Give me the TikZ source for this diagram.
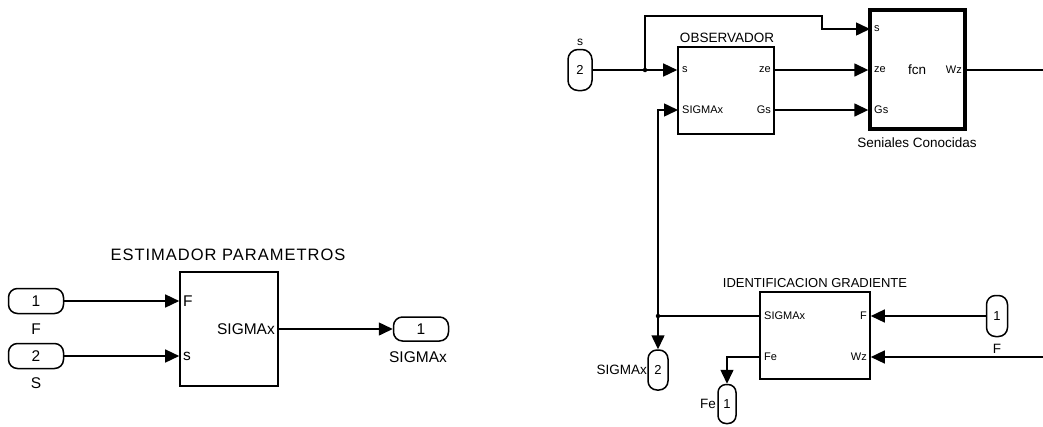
\documentclass[tikz,border=0pt]{standalone}
\usepackage{fontspec}
\setmainfont{Liberation Sans}
\usetikzlibrary{arrows.meta}

\begin{document}
\begin{tikzpicture}[
    x=1pt, y=-1pt,
    blk/.style={rectangle, draw, line width=1.6pt, inner sep=0pt},
    port/.style={rectangle, draw, line width=1.5pt, rounded corners=9pt, inner sep=0pt, font=\fontsize{13}{15}\selectfont},
    plbl/.style={inner sep=0pt, font=\fontsize{11}{12}\selectfont},
    ttl/.style={inner sep=0pt, font=\fontsize{13.5}{15}\selectfont},
    big/.style={font=\fontsize{15.5}{17}\selectfont},
    sig/.style={line width=1.5pt, -{Triangle[length=14pt, width=13pt]}},
    wire/.style={line width=1.5pt},
    dot/.style={circle, fill, inner sep=0pt, minimum size=4.5pt}
]
    \useasboundingbox (0,0) rectangle (1043,426);

    % estimador (left)
    \node[blk, minimum width=98pt, minimum height=114pt] (est) at (229,329) {};
    \node[ttl, font=\fontsize{16.5}{18}\selectfont\addfontfeatures{LetterSpace=6}] (estT) at (228,255) {ESTIMADOR PARAMETROS};
    \node[port, big, minimum width=55pt, minimum height=25pt] (inF) at (36,301) {1};
    \node[ttl, big] (inFlbl) at (36,329) {F};
    \node[port, big, minimum width=55pt, minimum height=25pt] (inS) at (36,356) {2};
    \node[ttl, big] (inSlbl) at (36,383) {S};
    \node[port, big, minimum width=55pt, minimum height=24pt] (outS) at (421,329) {1};
    \node[ttl, big] (outSlbl) at (418,357) {SIGMAx};
    \node[plbl, big, anchor=west] (estF) at (183,301) {F};
    \node[plbl, big, anchor=west] (estS) at (183,356) {s};
    \node[plbl, big, anchor=east] (estO) at (275,329) {SIGMAx};

    \draw[sig] (inF) -- (inF -| est.west);
    \draw[sig] (inS) -- (inS -| est.west);
    \draw[sig] (est) -- (outS);

    % observador and seniales conocidas
    \node[port, minimum width=24pt, minimum height=41pt, rounded corners=10pt] (in2) at (580,70) {2};
    \node[ttl, font=\fontsize{12}{14}\selectfont] (in2lbl) at (580,42) {s};
    \node[blk, minimum width=96pt, minimum height=87pt] (obs) at (726,90.5) {};
    \node[ttl] (obsT) at (727,38) {OBSERVADOR};
    \node[plbl, anchor=west] (obsS) at (682,70) {s};
    \node[plbl, anchor=west] (obsSig) at (682,110) {SIGMAx};
    \node[plbl, anchor=east] (obsZe) at (771,70) {ze};
    \node[plbl, anchor=east] (obsGs) at (771,110) {Gs};

    \node[blk, line width=3.4pt, minimum width=95pt, minimum height=119pt] (fcn) at (917.5,69.5) {};
    \node[ttl] (fcnT) at (917,70) {fcn};
    \node[ttl] (fcnB) at (917,143) {Seniales Conocidas};
    \node[plbl, anchor=west] (fcnS) at (874,29) {s};
    \node[plbl, anchor=west] (fcnZe) at (874,70) {ze};
    \node[plbl, anchor=west] (fcnGs) at (874,110) {Gs};
    \node[plbl, anchor=east] (fcnWz) at (962,70) {Wz};

    \node[dot] (j1) at (645,70) {};
    \coordinate (fcnSin) at (870,29);
    \coordinate (obsSin) at (678,110);
    \coordinate (wzOut) at (1043,70);

    \draw[wire] (in2) -- (j1);
    \draw[sig] (j1) -- (j1 -| obs.west);
    \draw[sig] (j1) |- (822,16) |- (fcnSin);
    \draw[sig] (obs.east |- obsZe) -- (fcn.west |- obsZe);
    \draw[sig] (obs.east |- obsGs) -- (fcn.west |- obsGs);
    \draw[wire] (fcn.east |- fcnWz) -- (wzOut);

    % identificacion gradiente
    \node[blk, minimum width=110pt, minimum height=87pt] (idg) at (815,335.5) {};
    \node[ttl, font=\fontsize{13}{15}\selectfont] (idgT) at (815,283) {IDENTIFICACION GRADIENTE};
    \node[plbl, anchor=west] (idgSig) at (764,316) {SIGMAx};
    \node[plbl, anchor=west] (idgFe) at (764,357) {Fe};
    \node[plbl, anchor=east] (idgF) at (867,316) {F};
    \node[plbl, anchor=east] (idgWz) at (867,357) {Wz};

    \node[dot] (j2) at (658,316) {};
    \node[port, minimum width=20pt, minimum height=40pt, rounded corners=9pt] (out2) at (658,370) {2};
    \node[ttl, anchor=east] (out2lbl) at (647,370) {SIGMAx};
    \node[port, minimum width=18pt, minimum height=39pt, rounded corners=8pt] (outFe) at (727,404) {1};
    \node[ttl, anchor=east] (outFelbl) at (716,404) {Fe};
    \node[port, minimum width=21pt, minimum height=41pt, rounded corners=9pt] (inF2) at (997,316) {1};
    \node[ttl] (inF2lbl) at (997,349) {F};

    \coordinate (idgFeOut) at (760,357);
    \coordinate (wzIn) at (1043,357);

    \draw[wire] (j2 -| idg.west) -- (j2);
    \draw[sig] (j2) |- (obsSin);
    \draw[sig] (j2) -- (out2);
    \draw[sig] (idgFeOut) -| (outFe);
    \draw[sig] (inF2) -- (inF2 -| idg.east);
    \draw[sig] (wzIn) -- (wzIn -| idg.east);
\end{tikzpicture}
\end{document}
